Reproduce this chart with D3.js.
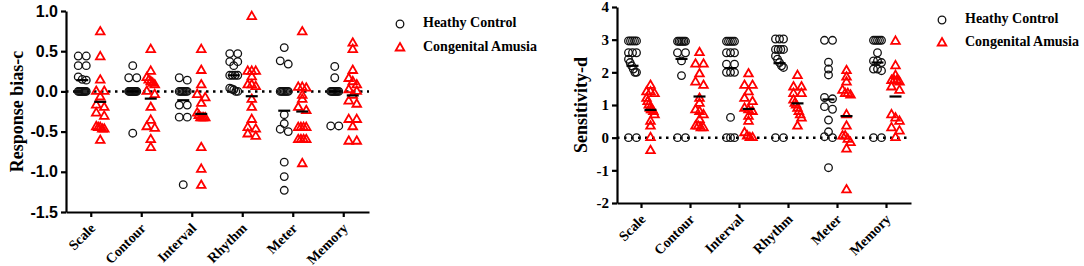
<!DOCTYPE html>
<html>
<head>
<meta charset="utf-8">
<script src="https://cdn.jsdelivr.net/npm/d3@7"></script>
<style>
  body { margin: 0; background: #fff; }
  svg { display: block; }
</style>
</head>
<body>
<div id="chart"></div>
<script>
// Categories and groups
const categories = ['Scale', 'Contour', 'Interval', 'Rhythm', 'Meter', 'Memory'];
const groups = ['Heathy Control', 'Congenital Amusia'];

// Response bias-c, one list per category
const biasHC = [
    [0.44, 0.44, 0.32, 0.32, 0.18, 0.15, 0.14, 0, 0, 0, 0, 0, 0, 0, 0, 0],
    [0.32, 0.17, 0.17, 0, 0, 0, 0, 0, 0, 0, 0, 0, 0, 0, -0.52],
    [0.17, 0.14, 0, 0, 0, 0, 0, 0, 0, -0.17, -0.17, -0.32, -0.32, -1.16],
    [0.47, 0.47, 0.37, 0.37, 0.32, 0.2, 0.2, 0.2, 0.2, 0.04, 0.03, 0.02, 0, 0],
    [0.545, 0.38, 0.34, 0, 0, 0, 0, 0, 0, 0, -0.29, -0.4, -0.47, -0.5, -0.88, -1.06, -1.23],
    [0.31, 0.17, 0, 0, 0, 0, 0, 0, 0, 0, -0.43, -0.43]
];
const biasCA = [
    [0.74, 0.43, 0.14, 0, 0, -0.07, -0.17, -0.2, -0.27, -0.31, -0.44, -0.45, -0.45, -0.47, -0.47, -0.61],
    [0.52, 0.25, 0.17, 0.14, 0.12, 0.1, 0.08, 0, -0.04, -0.2, -0.36, -0.44, -0.46, -0.6, -0.7],
    [0.52, 0.26, 0.08, -0.04, -0.08, -0.15, -0.27, -0.3, -0.33, -0.33, -0.33, -0.33, -0.7, -0.97, -1.17],
    [0.93, 0.25, 0.25, 0.25, 0.18, 0.08, 0.08, 0.06, -0.1, -0.2, -0.35, -0.45, -0.47, -0.53, -0.56],
    [0.74, 0.05, 0.05, 0.04, -0.05, -0.1, -0.2, -0.24, -0.45, -0.45, -0.45, -0.45, -0.6, -0.6, -0.6, -0.6, -0.9],
    [0.6, 0.52, 0.26, 0.16, 0.12, 0.08, 0.02, 0, -0.05, -0.12, -0.16, -0.35, -0.35, -0.44, -0.62, -0.62]
];
const biasMeanHC = [0.14, 0.0, -0.11, 0.2, -0.24, 0.0];
const biasMeanCA = [-0.13, -0.09, -0.28, -0.06, -0.25, -0.05];
const biasTicks = [1.0, 0.5, 0.0, -0.5, -1.0, -1.5];

// Sensitivity-d
const sensHC = [
    [2.96, 2.96, 2.96, 2.96, 2.96, 2.6, 2.6, 2.6, 2.4, 2.3, 2.2, 2.1, 2.0, 2.0, 0, 0],
    [2.95, 2.95, 2.95, 2.95, 2.95, 2.95, 2.6, 2.6, 2.35, 1.9, 0, 0],
    [2.95, 2.95, 2.95, 2.95, 2.95, 2.6, 2.6, 2.6, 2.25, 2.25, 2.0, 2.0, 2.0, 0.62, 0, 0, 0],
    [3.02, 3.02, 3.02, 2.7, 2.7, 2.7, 2.7, 2.5, 2.4, 2.3, 2.2, 2.15, 0, 0],
    [2.98, 2.98, 2.31, 2.1, 1.92, 1.23, 1.19, 0.95, 0.87, 0.54, 0.18, 0.03, 0, -0.92],
    [2.98, 2.98, 2.98, 2.98, 2.98, 2.6, 2.35, 2.35, 2.3, 2.1, 2.1, 2.05, 0, 0]
];
const sensCA = [
    [1.6, 1.4, 1.4, 1.35, 1.2, 1.1, 1.0, 0.9, 0.85, 0.85, 0.8, 0.7, 0.5, 0.35, 0, -0.4],
    [2.6, 2.25, 2.25, 1.95, 1.7, 1.6, 1.2, 1.05, 0.85, 0.8, 0.7, 0.55, 0.35, 0.35, 0.3, 0.3],
    [1.95, 1.6, 1.6, 1.4, 1.2, 1.1, 0.9, 0.85, 0.8, 0.65, 0.5, 0.15, 0.05, 0, 0],
    [1.9, 1.55, 1.55, 1.35, 1.35, 1.15, 1.05, 1.0, 0.9, 0.8, 0.7, 0.6, 0.35],
    [2.05, 1.85, 1.7, 1.45, 1.35, 1.35, 1.3, 0.7, 0.35, 0.05, 0.05, -0.05, -0.15, -0.35, -1.6],
    [2.95, 2.2, 1.9, 1.75, 1.75, 1.75, 1.7, 1.55, 1.45, 0.7, 0.6, 0.5, 0.3, 0.2, 0]
];
const sensMeanHC = [2.2, 2.41, 2.13, 2.28, 1.17, 2.3];
const sensMeanCA = [0.85, 1.26, 0.88, 1.05, 0.66, 1.26];
const sensTicks = [4, 3, 2, 1, 0, -1, -2];

const svg = d3.select('#chart')
    .append('svg')
    .attr('width', 1084)
    .attr('height', 266);

const serif = '"Liberation Serif", "Times New Roman", serif';
const sans = '"Liberation Sans", Arial, sans-serif';

// spread nearby points sideways (Prism-like scatter)
function spread(values, y) {
    const pts = values.map(v => ({ v, py: y(v) })).sort((a, b) => a.py - b.py);
    const clusters = [];
    pts.forEach(p => {
        const last = clusters[clusters.length - 1];
        if (last && p.py - last[last.length - 1].py < 4) last.push(p);
        else clusters.push([p]);
    });
    clusters.forEach(c => {
        const n = c.length;
        const w = Math.min((n - 1) * 8, 8);
        c.forEach((p, i) => { p.dx = n === 1 ? 0 : -w / 2 + i * w / (n - 1); });
    });
    return pts;
}

function renderPanel(cfg) {
    const x = d3.scaleBand().domain(categories).range(cfg.xRange);
    const sub = d3.scalePoint().domain(groups).range([-9, 9]);
    const y = d3.scaleLinear().domain(cfg.yDomain).range(cfg.yRange);
    const g = svg.append('g');

    // zero reference line
    g.append('line')
        .attr('x1', cfg.xRange[0]).attr('x2', cfg.xRange[1])
        .attr('y1', y(0)).attr('y2', y(0))
        .attr('stroke', '#000')
        .attr('stroke-width', 2.5)
        .attr('stroke-dasharray', '2.5,4.5');

    // y axis
    const yAxis = g.append('g')
        .attr('transform', `translate(${cfg.xRange[0]},0)`)
        .call(d3.axisLeft(y).tickValues(cfg.ticks).tickSize(5).tickSizeOuter(0)
            .tickFormat(cfg.tickFormat));
    yAxis.select('.domain').attr('stroke-width', 2.2);
    yAxis.selectAll('.tick line').attr('stroke-width', 2.2);
    yAxis.selectAll('.tick text')
        .attr('x', -8)
        .style('font-family', cfg.tickFont)
        .style('font-weight', 'bold')
        .style('font-size', cfg.tickSize)
        .attr('fill', '#000');

    // x axis
    const xAxis = g.append('g')
        .attr('transform', `translate(0,${cfg.yRange[0]})`)
        .call(d3.axisBottom(x).tickSize(5).tickSizeOuter(0));
    xAxis.select('.domain').attr('stroke-width', 2.2);
    xAxis.selectAll('.tick line').attr('stroke-width', 2.2);
    xAxis.selectAll('.tick text')
        .attr('y', 0)
        .attr('dy', 0)
        .attr('transform', 'translate(5,17) rotate(-45)')
        .style('text-anchor', 'end')
        .style('font-family', serif)
        .style('font-weight', 'bold')
        .style('font-size', '14px')
        .attr('fill', '#000');

    // y label
    g.append('text')
        .attr('transform', `translate(${cfg.labelX},${(cfg.yRange[0] + cfg.yRange[1]) / 2}) rotate(-90)`)
        .attr('text-anchor', 'middle')
        .attr('dominant-baseline', 'middle')
        .style('font-family', serif)
        .style('font-weight', 'bold')
        .style('font-size', '18px')
        .text(cfg.label);

    const tri = d3.symbol().type(d3.symbolTriangle).size(32);

    categories.forEach((cat, ci) => {
        const cx = x(cat) + x.bandwidth() / 2;

        // healthy control: open circles
        const hx = cx + sub(groups[0]);
        g.append('g').selectAll('circle')
            .data(spread(cfg.hc[ci], y))
            .enter().append('circle')
            .attr('cx', d => hx + d.dx)
            .attr('cy', d => d.py)
            .attr('r', 3.8)
            .attr('fill', 'none')
            .attr('stroke', '#111')
            .attr('stroke-width', 1.3);

        // congenital amusia: open triangles
        const ax = cx + sub(groups[1]);
        g.append('g').selectAll('path')
            .data(spread(cfg.ca[ci], y))
            .enter().append('path')
            .attr('d', tri)
            .attr('transform', d => `translate(${ax + d.dx},${d.py})`)
            .attr('fill', 'none')
            .attr('stroke', '#f00')
            .attr('stroke-width', 1.8);

        // mean lines
        [[hx, cfg.meanHC[ci]], [ax, cfg.meanCA[ci]]].forEach(([mx, m]) => {
            g.append('line')
                .attr('x1', mx - 6).attr('x2', mx + 6)
                .attr('y1', y(m)).attr('y2', y(m))
                .attr('stroke', '#000')
                .attr('stroke-width', 2.2);
        });
    });

    // legend
    const legend = g.append('g')
        .attr('transform', `translate(${cfg.legend[0]},${cfg.legend[1]})`);
    legend.append('circle')
        .attr('r', 3.8).attr('fill', 'none')
        .attr('stroke', '#111').attr('stroke-width', 1.3);
    legend.append('path')
        .attr('d', tri)
        .attr('transform', `translate(0,${cfg.legendGap})`)
        .attr('fill', 'none').attr('stroke', '#f00').attr('stroke-width', 1.8);
    groups.forEach((name, i) => {
        legend.append('text')
            .attr('x', 23)
            .attr('y', i * cfg.legendGap)
            .attr('dominant-baseline', 'middle')
            .style('font-family', serif)
            .style('font-weight', 'bold')
            .style('font-size', '14px')
            .text(name);
    });
}

renderPanel({
    xRange: [66, 369], yDomain: [-1.5, 1], yRange: [212, 11],
    ticks: biasTicks, tickFormat: d => d.toFixed(1), tickFont: sans, tickSize: '16px',
    hc: biasHC, ca: biasCA, meanHC: biasMeanHC, meanCA: biasMeanCA,
    label: 'Response bias-c', labelX: 19,
    legend: [400, 24], legendGap: 24
});

renderPanel({
    xRange: [617, 911], yDomain: [-2, 4], yRange: [203, 7],
    ticks: sensTicks, tickFormat: d => String(d), tickFont: serif, tickSize: '15px',
    hc: sensHC, ca: sensCA, meanHC: sensMeanHC, meanCA: sensMeanCA,
    label: 'Sensitivity-d', labelX: 583,
    legend: [942, 20], legendGap: 23
});
</script>
</body>
</html>
